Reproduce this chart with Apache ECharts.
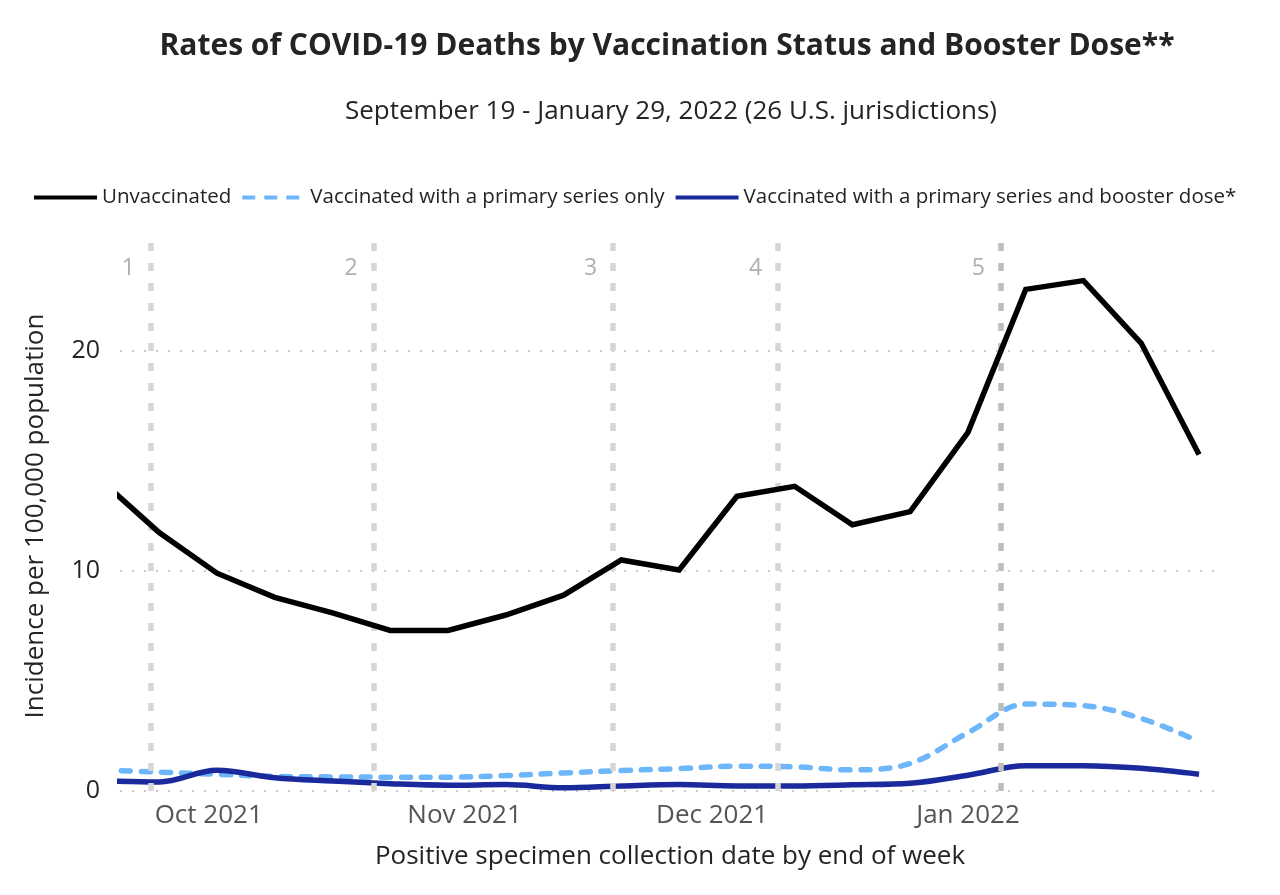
<!DOCTYPE html>
<html><head><meta charset="utf-8">
<script src="https://cdn.jsdelivr.net/npm/echarts@6/dist/echarts.min.js"></script>
<style>html,body{margin:0;padding:0;background:#fff}#c{width:1280px;height:895px}</style>
</head><body><div id="c"></div>
<script>
// ---- data ----
const weekEnding = ['2021-09-18','2021-09-25','2021-10-02','2021-10-09','2021-10-16','2021-10-23','2021-10-30',
  '2021-11-06','2021-11-13','2021-11-20','2021-11-27','2021-12-04','2021-12-11','2021-12-18','2021-12-25',
  '2022-01-01','2022-01-08','2022-01-15','2022-01-22','2022-01-29'];
const unvaccinated = [14.1, 11.75, 9.9, 8.8, 8.1, 7.3, 7.3, 8.0, 8.9, 10.5, 10.05, 13.4, 13.85, 12.1, 12.7, 16.3, 22.8, 23.2, 20.35, 15.3];
const primaryOnly  = [0.96, 0.86, 0.76, 0.66, 0.64, 0.63, 0.63, 0.7, 0.82, 0.93, 1.02, 1.13, 1.1, 0.96, 1.25, 2.65, 3.95, 3.88, 3.3, 2.25];
const boosted      = [0.47, 0.41, 0.94, 0.6, 0.45, 0.33, 0.26, 0.29, 0.15, 0.23, 0.29, 0.23, 0.23, 0.28, 0.35, 0.72, 1.15, 1.15, 1.03, 0.76];
const seriesNames = ['Unvaccinated', 'Vaccinated with a primary series only', 'Vaccinated with a primary series and booster dose*'];
const tickDates  = ['2021-10-01','2021-11-01','2021-12-01','2022-01-01'];
const tickLabels = ['Oct 2021','Nov 2021','Dec 2021','Jan 2022'];
const periodDates  = ['2021-09-24','2021-10-21','2021-11-19','2021-12-09','2022-01-05'];
const periodLabels = ['1','2','3','4','5'];
const periodLabelLevel = 23.75;
const axisStart = '2021-09-20T06:00:00';
const axisEnd   = '2022-01-31T13:00:00';
const titleText = 'Rates of COVID-19 Deaths by Vaccination Status and Booster Dose**';
const subtitleText = 'September 19 - January 29, 2022 (26 U.S. jurisdictions)';
const yName = 'Incidence per 100,000 population';
const xName = 'Positive specimen collection date by end of week';

// ---- build ----
const t = s => new Date(s.length === 10 ? s + 'T00:00:00' : s).getTime();
const pairs = vals => weekEnding.map((d, i) => [t(d), vals[i]]);
const tickTs = tickDates.map(t);
const FONT = 'Open Sans';
const colors = ['#000000', '#6db6f9', '#1a2a9c'];

const chart = echarts.init(document.getElementById('c'), null, {renderer: 'canvas'});
chart.setOption({
  animation: false,
  textStyle: {fontFamily: FONT},
  title: [
    {text: titleText, left: 662, top: 26, textAlign: 'center',
     textStyle: {fontFamily: FONT, fontSize: 30, fontWeight: 'bold', color: '#252423'}},
    {text: subtitleText, left: 666, top: 94, textAlign: 'center',
     textStyle: {fontFamily: FONT, fontSize: 26, fontWeight: 'normal', color: '#252423'}}
  ],
  legend: {
    left: 27, top: 182, itemWidth: 63, itemHeight: 4, itemGap: 9,
    itemStyle: {opacity: 0},
    textStyle: {fontFamily: FONT, fontSize: 20.5, color: '#252423'},
    data: [
      {name: seriesNames[0], lineStyle: {width: 4}},
      {name: seriesNames[1], lineStyle: {type: [13, 9], cap: 'butt', width: 4}},
      {name: seriesNames[2], lineStyle: {width: 4}}
    ]
  },
  grid: {left: 120, right: 60, top: 241, bottom: 104, containLabel: false},
  xAxis: {
    type: 'value', min: t(axisStart), max: t(axisEnd),
    name: xName, nameLocation: 'middle', nameGap: 53,
    nameTextStyle: {fontFamily: FONT, fontSize: 26, color: '#252423'},
    axisLine: {show: false}, axisTick: {show: false}, splitLine: {show: false},
    axisLabel: {
      customValues: tickTs, margin: 12, fontSize: 26, color: '#555555', fontFamily: FONT,
      formatter: v => { const i = tickTs.indexOf(v); return i >= 0 ? tickLabels[i] : ''; }
    }
  },
  yAxis: {
    type: 'value', min: 0, max: 25, interval: 10,
    name: yName, nameLocation: 'middle', nameGap: 71,
    nameTextStyle: {fontFamily: FONT, fontSize: 26, color: '#252423'},
    axisLine: {show: false}, axisTick: {show: false},
    axisLabel: {margin: 20, fontSize: 25, color: '#252423', fontFamily: FONT, showMaxLabel: false,
      formatter: v => (v % 10 === 0 ? String(v) : '')},
    splitLine: {show: true, showMaxLine: false, lineStyle: {type: [2, 10], color: '#b8b8b8', width: 1.5}}
  },
  series: [
    {
      name: 'periods', type: 'scatter', silent: true, symbolSize: 0, z: 1,
      data: periodDates.map((d, i) => ({value: [t(d), periodLabelLevel], label: {formatter: periodLabels[i]}})),
      label: {show: true, position: 'left', distance: 16, fontSize: 23, color: '#9a9a9a', fontFamily: FONT},
      markLine: {
        silent: true, symbol: 'none', label: {show: false},
        data: periodDates.map((d, i) => ({xAxis: t(d),
          lineStyle: {color: i === 4 ? '#bdbdbd' : '#d6d6d6', width: 5.5, type: [8, 12]}}))
      }
    },
    {
      name: seriesNames[0], type: 'line', data: pairs(unvaccinated), symbol: 'none', z: 5,
      lineStyle: {color: colors[0], width: 5.5, join: 'miter'}, itemStyle: {color: colors[0]}
    },
    {
      name: seriesNames[1], type: 'line', data: pairs(primaryOnly), symbol: 'none', smooth: 0.35, z: 4,
      lineStyle: {color: colors[1], width: 5.5, type: [9, 11], cap: 'round'}, itemStyle: {color: colors[1]}
    },
    {
      name: seriesNames[2], type: 'line', data: pairs(boosted), symbol: 'none', smooth: 0.35, z: 4,
      lineStyle: {color: colors[2], width: 5.5}, itemStyle: {color: colors[2]}
    }
  ]
});
</script></body></html>
